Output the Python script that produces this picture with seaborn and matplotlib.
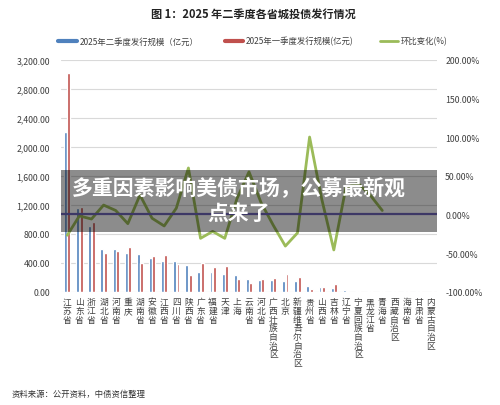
import numpy as np
import pandas as pd
import matplotlib
matplotlib.use("Agg")
import matplotlib.pyplot as plt
import seaborn as sns
from matplotlib.lines import Line2D
from matplotlib.patches import Rectangle
from matplotlib.ticker import FuncFormatter

# ---------------- data ----------------
provinces = ["江苏省", "山东省", "浙江省", "湖北省", "河南省", "重庆", "湖南省", "安徽省",
             "江西省", "四川省", "陕西省", "广东省", "福建省", "天津", "上海", "云南省",
             "河北省", "广西壮族自治区", "北京", "新疆维吾尔自治区", "贵州省", "山西省",
             "吉林省", "辽宁省", "宁夏回族自治区", "黑龙江省", "青海省", "西藏自治区",
             "海南省", "甘肃省", "内蒙古自治区"]
q2_issue = [2200, 1150, 900, 595, 585, 540, 525, 468, 430, 418, 372, 275, 267, 243, 236,
            175, 165, 155, 145, 145, 74, 65, 55, 20, 15, 5, 3, 15, 5, 3, 2]
q1_issue = [3015, 1175, 955, 532, 558, 612, 402, 495, 505, 385, 234, 395, 342, 350, 170,
            115, 175, 190, 250, 202, 37, 58, 100, 15, 10, 8, 5, 5, 3, 5, 3]
qoq_pct = [-27, -2, -6, 12, 5, -12, 25, -5, -15, 8, 60, -31, -22, -31, 20, 55, 15, -14,
           -41, -24, 100, 20, -46, 35, 40, 25, 5]

series_q2 = "2025年二季度发行规模（亿元）"
series_q1 = "2025年一季度发行规模(亿元)"
series_qoq = "环比变化(%)"
title = "图 1：2025 年二季度各省城投债发行情况"
source = "资料来源：公开资料，中债资信整理"
overlay = "多重因素影响美债市场，公募最新观\n点来了"
left_ticks = [0, 400, 800, 1200, 1600, 2000, 2400, 2800, 3200]
right_ticks = [-100, -50, 0, 50, 100, 150, 200]

BLUE = "#4f81bd"
RED = "#c0504d"
GREEN = "#9bbb59"
NAVY = "#3d3866"

# ---------------- figure ----------------
sns.set_theme(style="white")
plt.rcParams["font.family"] = ["Noto Sans CJK SC", "DejaVu Sans"]

W, H = 500, 406
fig = plt.figure(figsize=(W / 100, H / 100), dpi=100)
fig.patch.set_facecolor("white")

x0, x1, ytop, ybot = 61.2, 436.8, 60.7, 292.7
ax = fig.add_axes([x0 / W, 1 - ybot / H, (x1 - x0) / W, (ybot - ytop) / H])

n = len(provinces)
df = pd.DataFrame({
    "省份": provinces * 2,
    "规模": q2_issue + q1_issue,
    "季度": [series_q2] * n + [series_q1] * n,
})
sns.barplot(data=df, x="省份", y="规模", hue="季度", palette=[BLUE, RED],
            width=0.55, gap=0.12, saturation=1, ax=ax, legend=False, zorder=3)

ax.set_xlim(-0.5, n - 0.5)
ax.set_ylim(0, 3200)
ax.set_yticks(left_ticks)
ax.yaxis.set_major_formatter(FuncFormatter(lambda v, p: f"{v:,.2f}"))
ax.yaxis.grid(True, color="#d9d9d9", lw=0.8, zorder=0)
ax.xaxis.grid(False)
ax.set_xlabel("")
ax.set_ylabel("")
ax.set_xticks(range(n))
ax.set_xticklabels(["\n".join(p) for p in provinces], fontsize=6.3, linespacing=0.95,
                   va="top", color="#404040")
ax.tick_params(axis="x", length=0, pad=4)
ax.tick_params(axis="y", length=0, pad=8, labelsize=6.3, labelcolor="#404040")
for s in ax.spines.values():
    s.set_visible(False)

# ---------------- secondary axis ----------------
ax2 = ax.twinx()
line_df = pd.DataFrame({"省份": provinces[:len(qoq_pct)], "环比": qoq_pct})
sns.lineplot(data=line_df, x="省份", y="环比", ax=ax2, color=GREEN, lw=2, sort=False,
             zorder=4)
ax2.set_ylim(-100, 200)
ax2.set_yticks(right_ticks)
ax2.yaxis.set_major_formatter(FuncFormatter(lambda v, p: f"{v:.2f}%"))
ax2.tick_params(axis="y", length=0, pad=6, labelsize=6.3, labelcolor="#404040")
ax2.grid(False)
ax2.set_ylabel("")
ax2.set_xlabel("")
for s in ax2.spines.values():
    s.set_visible(False)

# overlay banner
box = Rectangle((x0 / W, 1 - 233 / H), (x1 - x0) / W, (233 - 171) / H,
                transform=fig.transFigure, facecolor="black", alpha=0.45,
                edgecolor="none", zorder=10, clip_on=False)
ax2.add_patch(box)
ax2.axhline(0, color=NAVY, lw=1.6, zorder=11)

fig.text(238.5 / W, 1 - 201 / H, overlay, ha="center", va="center", color="white",
         fontsize=15, fontweight="bold", linespacing=1.25, zorder=20)

# title / legend / source
fig.text(253 / W, 1 - 14 / H, title, ha="center", va="center", fontsize=8,
         fontweight="bold", color="#222222")
handles = [Line2D([], [], color=BLUE, lw=3),
           Line2D([], [], color=RED, lw=3),
           Line2D([], [], color=GREEN, lw=2)]
fig.legend(handles, [series_q2, series_q1, series_qoq], loc="center",
           bbox_to_anchor=(253 / W, 1 - 42 / H), ncol=3, frameon=False, fontsize=6,
           handlelength=2.2, handletextpad=0.3, columnspacing=3.2,
           labelcolor="#404040")
fig.text(12 / W, 1 - 394 / H, source, ha="left", va="center", fontsize=6,
         color="#333333")

fig.savefig("out.png", dpi=100)
